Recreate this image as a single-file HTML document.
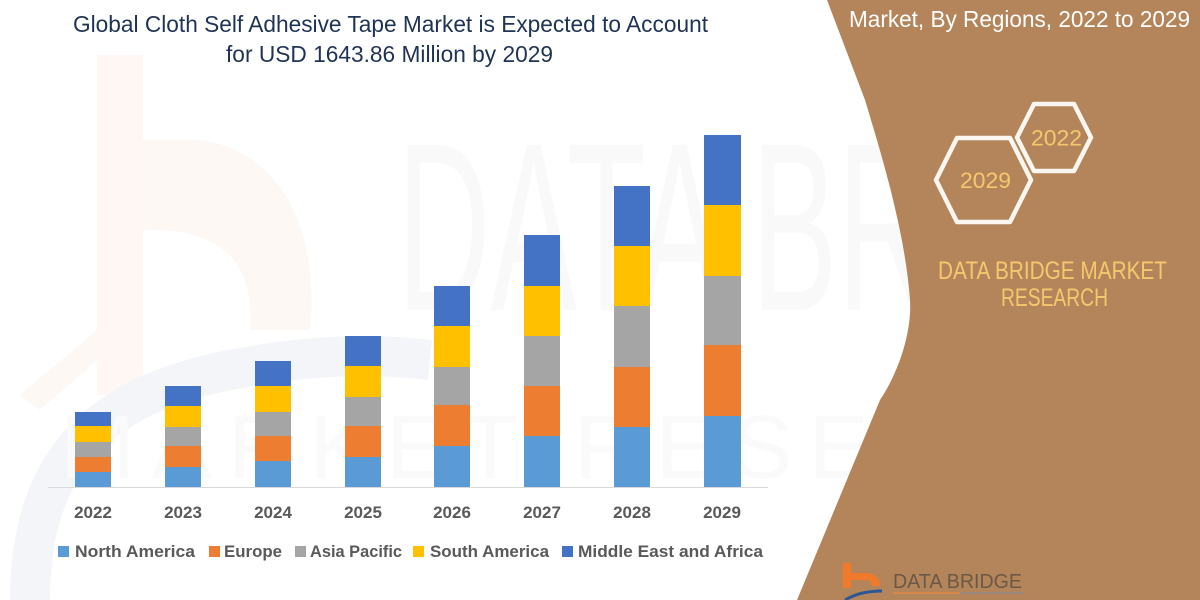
<!DOCTYPE html>
<html>
<head>
<meta charset="utf-8">
<style>
html,body{margin:0;padding:0;background:#fff;}
svg{display:block;}
text{font-family:"Liberation Sans",Arial,sans-serif;}
</style>
</head>
<body>
<svg width="1200" height="600" viewBox="0 0 1200 600" xmlns="http://www.w3.org/2000/svg">
  <rect x="0" y="0" width="1200" height="600" fill="#ffffff"/>

  <!-- faint watermarks -->
  <g>
    <rect x="97" y="55" width="46" height="340" fill="#FEF7F3"/>
    <path d="M143,140 L200,140 C280,150 320,230 310,330 L250,330 C255,260 220,228 143,230 Z" fill="#FEF8F4"/>
    <path d="M20,395 L97,330 L97,360 L40,410 Z" fill="#FEF8F4"/>
    <path d="M30,600 C30,470 90,400 220,372 C300,356 360,352 430,360" fill="none" stroke="#F3F5F8" stroke-width="40"/>
    <text x="397" y="310" font-size="240" fill="#F9F9F9" textLength="850" lengthAdjust="spacingAndGlyphs">DATA BRIDGE</text>
    <text x="60" y="478" font-size="90" fill="#FAFAFA" textLength="1130" lengthAdjust="spacing">MARKET RESEARCH</text>
  </g>

  <!-- brown panel -->
  <path d="M827,0 L865,100 C880,150 905,230 910,300 C912,330 900,370 880,400 L797,600 L1200,600 L1200,0 Z" fill="#B4855A"/>

  <!-- title -->
  <text x="73" y="32" font-size="23" fill="#1F3354" textLength="635" lengthAdjust="spacingAndGlyphs">Global Cloth Self Adhesive Tape Market is Expected to Account</text>
  <text x="226" y="62" font-size="23" fill="#1F3354" textLength="327" lengthAdjust="spacingAndGlyphs">for USD 1643.86 Million by 2029</text>

  <!-- right panel title -->
  <text x="849" y="27" font-size="23" fill="#ffffff" textLength="341" lengthAdjust="spacingAndGlyphs">Market, By Regions, 2022 to 2029</text>

  <!-- hexagons -->
  <polygon points="1017,137.5 1034,104 1074,104 1091,137.5 1074,171 1034,171" fill="none" stroke="#FBF6EF" stroke-width="4.5" stroke-linejoin="round"/>
  <text x="1031" y="145.5" font-size="22" fill="#F6C86E" textLength="51" lengthAdjust="spacingAndGlyphs">2022</text>
  <polygon points="936,180 957,138 1010,138 1031,180 1010,222 957,222" fill="none" stroke="#FBF6EF" stroke-width="4.5" stroke-linejoin="round"/>
  <text x="960" y="188" font-size="22" fill="#F6C86E" textLength="51" lengthAdjust="spacingAndGlyphs">2029</text>

  <text x="938" y="279" font-size="25" fill="#F6C86E" textLength="229" lengthAdjust="spacingAndGlyphs">DATA BRIDGE MARKET</text>
  <text x="1001" y="306" font-size="25" fill="#F6C86E" textLength="107" lengthAdjust="spacingAndGlyphs">RESEARCH</text>

  <!-- bottom logo -->
  <path d="M843,563 L851,563 L851,573 L866,573 C874,573 880,578 880,586 L872,586 C872,582 870,580 866,580 L851,580 L851,588 L843,588 Z" fill="#F07A2A"/>
  <path d="M845,600 C855,594 868,591 882,591" fill="none" stroke="#2B5797" stroke-width="3"/>
  <text x="893" y="588" font-size="20" fill="#6B5846" textLength="129" lengthAdjust="spacingAndGlyphs">DATA BRIDGE</text>
  <line x1="893" y1="593" x2="960" y2="593" stroke="#E08A45" stroke-width="1.5"/>
  <line x1="960" y1="593" x2="1025" y2="593" stroke="#8E8A86" stroke-width="1.5"/>

  <!-- axis line -->
  <line x1="48" y1="487.5" x2="768" y2="487.5" stroke="#D9D9D9" stroke-width="1"/>

  <!-- bars -->
  <g>
    <rect x="75" y="472" width="36" height="15" fill="#5B9BD5"/>
    <rect x="75" y="457" width="36" height="15" fill="#ED7D31"/>
    <rect x="75" y="442" width="36" height="15" fill="#A5A5A5"/>
    <rect x="75" y="426" width="36" height="16" fill="#FFC000"/>
    <rect x="75" y="412" width="36" height="14" fill="#4472C4"/>

    <rect x="165" y="467" width="36" height="20" fill="#5B9BD5"/>
    <rect x="165" y="446" width="36" height="21" fill="#ED7D31"/>
    <rect x="165" y="427" width="36" height="19" fill="#A5A5A5"/>
    <rect x="165" y="406" width="36" height="21" fill="#FFC000"/>
    <rect x="165" y="386" width="36" height="20" fill="#4472C4"/>

    <rect x="255" y="461" width="36" height="26" fill="#5B9BD5"/>
    <rect x="255" y="436" width="36" height="25" fill="#ED7D31"/>
    <rect x="255" y="412" width="36" height="24" fill="#A5A5A5"/>
    <rect x="255" y="386" width="36" height="26" fill="#FFC000"/>
    <rect x="255" y="361" width="36" height="25" fill="#4472C4"/>

    <rect x="345" y="457" width="36" height="30" fill="#5B9BD5"/>
    <rect x="345" y="426" width="36" height="31" fill="#ED7D31"/>
    <rect x="345" y="397" width="36" height="29" fill="#A5A5A5"/>
    <rect x="345" y="366" width="36" height="31" fill="#FFC000"/>
    <rect x="345" y="336" width="36" height="30" fill="#4472C4"/>

    <rect x="434" y="446" width="36" height="41" fill="#5B9BD5"/>
    <rect x="434" y="405" width="36" height="41" fill="#ED7D31"/>
    <rect x="434" y="367" width="36" height="38" fill="#A5A5A5"/>
    <rect x="434" y="326" width="36" height="41" fill="#FFC000"/>
    <rect x="434" y="286" width="36" height="40" fill="#4472C4"/>

    <rect x="524" y="436" width="36" height="51" fill="#5B9BD5"/>
    <rect x="524" y="386" width="36" height="50" fill="#ED7D31"/>
    <rect x="524" y="336" width="36" height="50" fill="#A5A5A5"/>
    <rect x="524" y="286" width="36" height="50" fill="#FFC000"/>
    <rect x="524" y="235" width="36" height="51" fill="#4472C4"/>

    <rect x="614" y="427" width="36" height="60" fill="#5B9BD5"/>
    <rect x="614" y="367" width="36" height="60" fill="#ED7D31"/>
    <rect x="614" y="306" width="36" height="61" fill="#A5A5A5"/>
    <rect x="614" y="246" width="36" height="60" fill="#FFC000"/>
    <rect x="614" y="186" width="36" height="60" fill="#4472C4"/>

    <rect x="704" y="416" width="37" height="71" fill="#5B9BD5"/>
    <rect x="704" y="345" width="37" height="71" fill="#ED7D31"/>
    <rect x="704" y="276" width="37" height="69" fill="#A5A5A5"/>
    <rect x="704" y="205" width="37" height="71" fill="#FFC000"/>
    <rect x="704" y="135" width="37" height="70" fill="#4472C4"/>
  </g>

  <!-- year labels -->
  <g font-size="17" font-weight="bold" fill="#595959" text-anchor="middle">
    <text x="93" y="518">2022</text>
    <text x="183" y="518">2023</text>
    <text x="273" y="518">2024</text>
    <text x="363" y="518">2025</text>
    <text x="452" y="518">2026</text>
    <text x="542" y="518">2027</text>
    <text x="632" y="518">2028</text>
    <text x="722" y="518">2029</text>
  </g>

  <!-- legend -->
  <g font-size="17" font-weight="bold" fill="#595959">
    <rect x="58" y="546" width="11" height="11" fill="#5B9BD5"/>
    <text x="75" y="557" textLength="120" lengthAdjust="spacingAndGlyphs">North America</text>
    <rect x="209" y="546" width="11" height="11" fill="#ED7D31"/>
    <text x="224" y="557" textLength="58" lengthAdjust="spacingAndGlyphs">Europe</text>
    <rect x="295" y="546" width="11" height="11" fill="#A5A5A5"/>
    <text x="310" y="557" textLength="92" lengthAdjust="spacingAndGlyphs">Asia Pacific</text>
    <rect x="413" y="546" width="11" height="11" fill="#FFC000"/>
    <text x="430" y="557" textLength="119" lengthAdjust="spacingAndGlyphs">South America</text>
    <rect x="562" y="546" width="11" height="11" fill="#4472C4"/>
    <text x="578" y="557" textLength="185" lengthAdjust="spacingAndGlyphs">Middle East and Africa</text>
  </g>
</svg>
</body>
</html>
